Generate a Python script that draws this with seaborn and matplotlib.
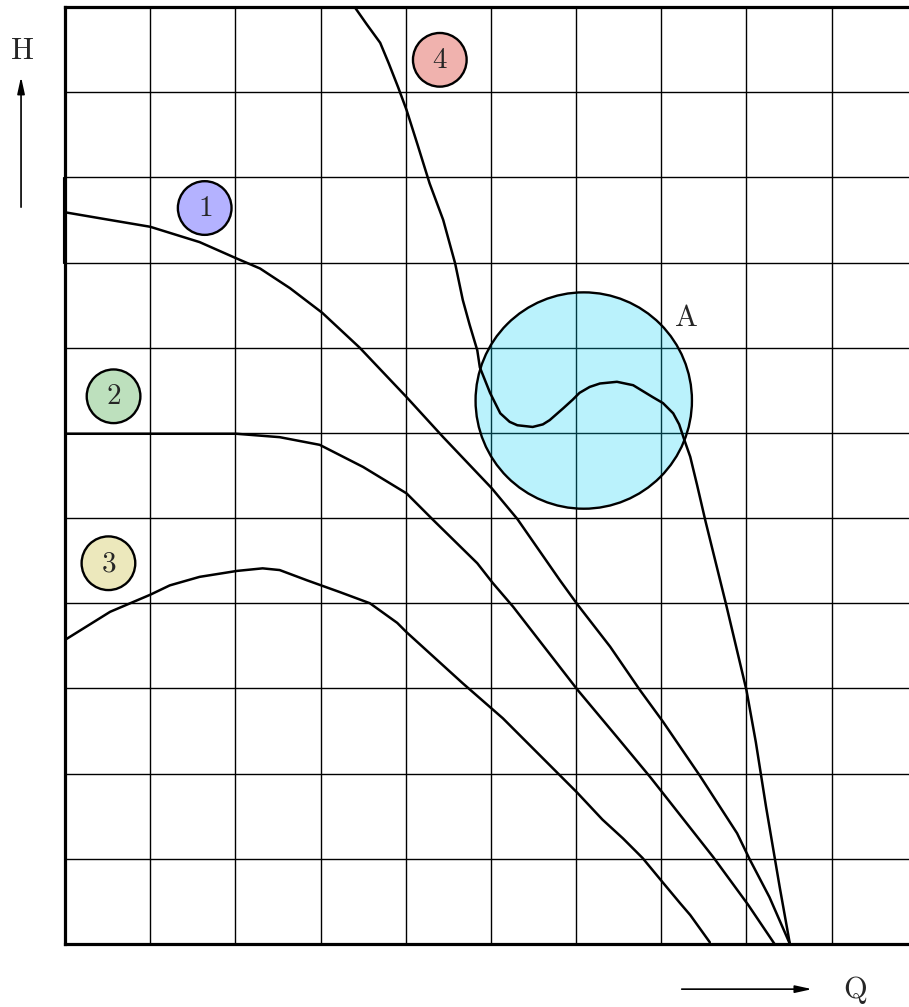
import numpy as np
import pandas as pd
import matplotlib
matplotlib.use("Agg")
import matplotlib.pyplot as plt
from matplotlib.patches import Circle
import seaborn as sns

# ---- data (grid units: Q horizontal, H vertical) ----
q1 = [0.00, 0.41, 1.00, 1.58, 2.01, 2.29, 2.64, 3.02, 3.46, 4.01, 4.44, 5.01, 5.31, 5.81,
      6.02, 6.40, 6.75, 7.02, 7.45, 7.89, 8.04, 8.27, 8.51]
h1 = [8.59, 8.52, 8.42, 8.24, 8.05, 7.93, 7.70, 7.41, 7.00, 6.42, 5.95, 5.35, 4.99, 4.27,
      3.98, 3.49, 2.98, 2.61, 1.98, 1.30, 0.99, 0.55, 0.00]

q2 = [0.00, 1.00, 2.01, 2.52, 2.99, 3.50, 4.01, 4.32, 4.84, 5.02, 5.26, 6.02, 6.48, 6.87,
      7.02, 7.61, 8.02, 8.33]
h2 = [5.99, 5.99, 5.99, 5.95, 5.86, 5.60, 5.29, 4.98, 4.47, 4.24, 3.96, 2.98, 2.43, 1.96,
      1.77, 1.02, 0.46, 0.00]

q3 = [0.00, 0.53, 1.00, 1.23, 1.58, 2.02, 2.32, 2.52, 2.84, 3.23, 3.58, 3.90, 4.01, 4.67,
      5.14, 5.81, 6.01, 6.31, 6.55, 6.78, 7.02, 7.22, 7.34, 7.57]
h3 = [3.57, 3.90, 4.10, 4.21, 4.31, 4.38, 4.41, 4.39, 4.27, 4.13, 4.00, 3.77, 3.66, 3.06,
      2.65, 1.98, 1.78, 1.46, 1.24, 1.01, 0.72, 0.48, 0.34, 0.02]

q4 = [3.40, 3.54, 3.70, 3.80, 3.91, 4.01, 4.14, 4.28, 4.44, 4.58, 4.67, 4.75, 4.84, 4.87,
      4.99, 5.11, 5.22, 5.31, 5.49, 5.61, 5.69, 5.85, 5.96, 6.04, 6.16, 6.28, 6.48, 6.67,
      6.90, 7.02, 7.14, 7.21, 7.27, 7.34, 7.42, 7.52, 7.76, 8.00, 8.11, 8.23, 8.39, 8.51]
h4 = [11.00, 10.80, 10.58, 10.34, 10.06, 9.79, 9.38, 8.93, 8.50, 7.99, 7.56, 7.27, 6.97, 6.77,
      6.47, 6.23, 6.13, 6.09, 6.07, 6.10, 6.15, 6.29, 6.39, 6.47, 6.54, 6.58, 6.60, 6.56,
      6.42, 6.35, 6.23, 6.10, 5.92, 5.72, 5.39, 4.96, 3.99, 2.98, 2.37, 1.61, 0.67, 0.00]

curve_labels = ["1", "2", "3", "4"]
label_q = [1.64, 0.57, 0.51, 4.40]
label_h = [8.64, 6.43, 4.47, 10.38]
label_colors = ["#b4b2ff", "#bde0bd", "#ece8bc", "#f0b2ae"]

region_label = "A"
region_center = (6.09, 6.38)
region_radius = 1.27
region_label_pos = (7.29, 7.35)

x_ticks = list(range(0, 10))
y_ticks = list(range(0, 12))

# ---- style ----
sns.set_style("white")
plt.rcParams["font.family"] = ["DejaVu Serif", "DejaVu Sans"]
plt.rcParams["mathtext.fontset"] = "cm"

W, H = 909, 1007
fig = plt.figure(figsize=(W / 100, H / 100), dpi=100)
unit = 937 / 11.0
ax = fig.add_axes([65 / W, 63 / H, 844 / W, 937 / H])
ax.set_xlim(0, 844 / unit)
ax.set_ylim(0, 11)

ax.set_xticks(x_ticks)
ax.set_yticks(y_ticks)
ax.tick_params(length=0, labelbottom=False, labelleft=False)
ax.grid(True, color="black", linewidth=1.0, zorder=0)
ax.set_axisbelow(True)
for side in ["left", "top", "bottom"]:
    ax.spines[side].set_linewidth(2.3)
    ax.spines[side].set_color("black")
    ax.spines[side].set_zorder(10)
ax.spines["right"].set_visible(False)

# small offset box at the left edge
ax.plot([-0.02, -0.02], [8, 9], color="black", lw=0.8, clip_on=False, zorder=2)

# region A
circ = Circle(region_center, region_radius, facecolor=(0.0, 0.82, 0.96, 0.27),
              edgecolor="black", linewidth=1.7, zorder=3)
ax.add_patch(circ)
ax.text(region_label_pos[0], region_label_pos[1], r"$\mathrm{" + region_label + "}$",
        fontsize=22, ha="center", va="center", zorder=6)

# curves
frames = []
for name, qs, hs in zip(curve_labels, [q1, q2, q3, q4], [h1, h2, h3, h4]):
    frames.append(pd.DataFrame({"Q": qs, "H": hs, "curve": name}))
df = pd.concat(frames, ignore_index=True)
sns.lineplot(data=df, x="Q", y="H", units="curve", estimator=None, sort=False,
             color="black", linewidth=1.8, ax=ax, zorder=5, legend=False)
for ln in ax.lines:
    ln.set_solid_joinstyle("round")
    ln.set_solid_capstyle("round")
ax.set_xlabel("")
ax.set_ylabel("")

# numbered circle labels
for lab, qx, hy, col in zip(curve_labels, label_q, label_h, label_colors):
    ax.add_patch(Circle((qx, hy), 0.315, facecolor=col, edgecolor="black",
                        linewidth=1.7, zorder=7))
    ax.text(qx, hy, r"$\mathrm{" + lab + "}$", fontsize=21, ha="center",
            va="center", zorder=8)

# axis direction arrows
ax.annotate("", xy=(-0.516, 10.18), xytext=(-0.516, 8.65), xycoords="data",
            annotation_clip=False,
            arrowprops=dict(arrowstyle="-|>,head_length=1.0,head_width=0.22",
                            color="black", lw=1.2, shrinkA=0, shrinkB=0))
ax.text(-0.50, 10.49, r"$\mathrm{H}$", fontsize=22, ha="center", va="center",
        clip_on=False)
ax.annotate("", xy=(8.77, -0.53), xytext=(7.24, -0.53), xycoords="data",
            annotation_clip=False,
            arrowprops=dict(arrowstyle="-|>,head_length=1.0,head_width=0.22",
                            color="black", lw=1.2, shrinkA=0, shrinkB=0))
ax.text(9.27, -0.54, r"$\mathrm{Q}$", fontsize=22, ha="center", va="center",
        clip_on=False)

fig.savefig("out.png", dpi=100)
